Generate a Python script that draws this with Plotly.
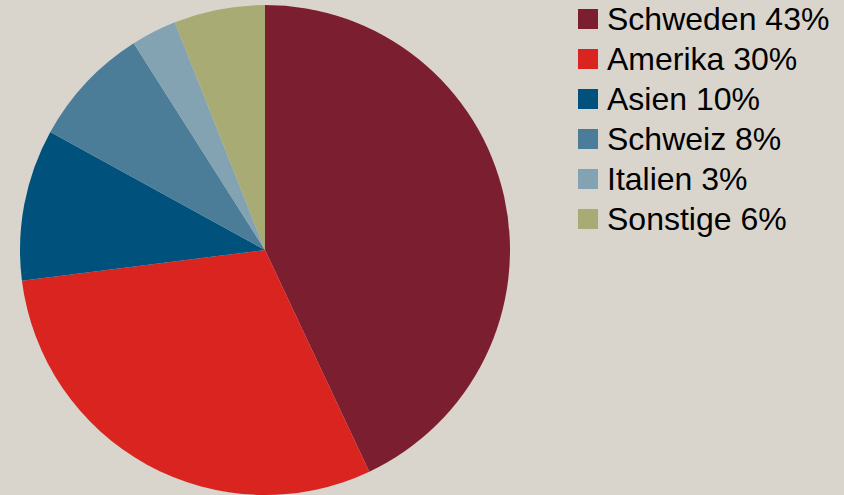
import plotly.graph_objects as go

labels = ["Schweden", "Amerika", "Asien", "Schweiz", "Italien", "Sonstige"]
values = [43, 30, 10, 8, 3, 6]
colors = ["#7b1f30", "#da241f", "#00527c", "#4b7d99", "#84a3b2", "#a8ab74"]

W, H = 844, 495
bg = "#d9d5cc"

fig = go.Figure(go.Pie(
    labels=labels, values=values, sort=False, direction="clockwise",
    rotation=0, marker=dict(colors=colors, line=dict(width=0)),
    textinfo="none", hoverinfo="label+percent", showlegend=False,
    domain=dict(x=[20/W, 510/W], y=[0, 490/H]),
))

shapes, annotations = [], []
for i, (lab, val, col) in enumerate(zip(labels, values, colors)):
    yc = 19 + 40 * i
    shapes.append(dict(type="rect", xref="paper", yref="paper",
                       x0=578/W, x1=598/W, y0=(H-(yc+10))/H, y1=(H-(yc-10))/H,
                       fillcolor=col, line=dict(width=0)))
    annotations.append(dict(xref="paper", yref="paper", x=605/W, y=(H-yc)/H,
                            xanchor="left", yanchor="middle", showarrow=False,
                            text=f"{lab} {val}%",
                            font=dict(family="Liberation Sans, Arial", size=32, color="#000000")))

fig.update_layout(width=W, height=H, margin=dict(l=0, r=0, t=0, b=0),
                  paper_bgcolor=bg, plot_bgcolor=bg,
                  shapes=shapes, annotations=annotations)
fig.write_html("out.html", config={"displayModeBar": False},
               post_script="document.body.style.margin='0';document.body.style.overflow='hidden';document.body.style.background='%s';" % bg)
